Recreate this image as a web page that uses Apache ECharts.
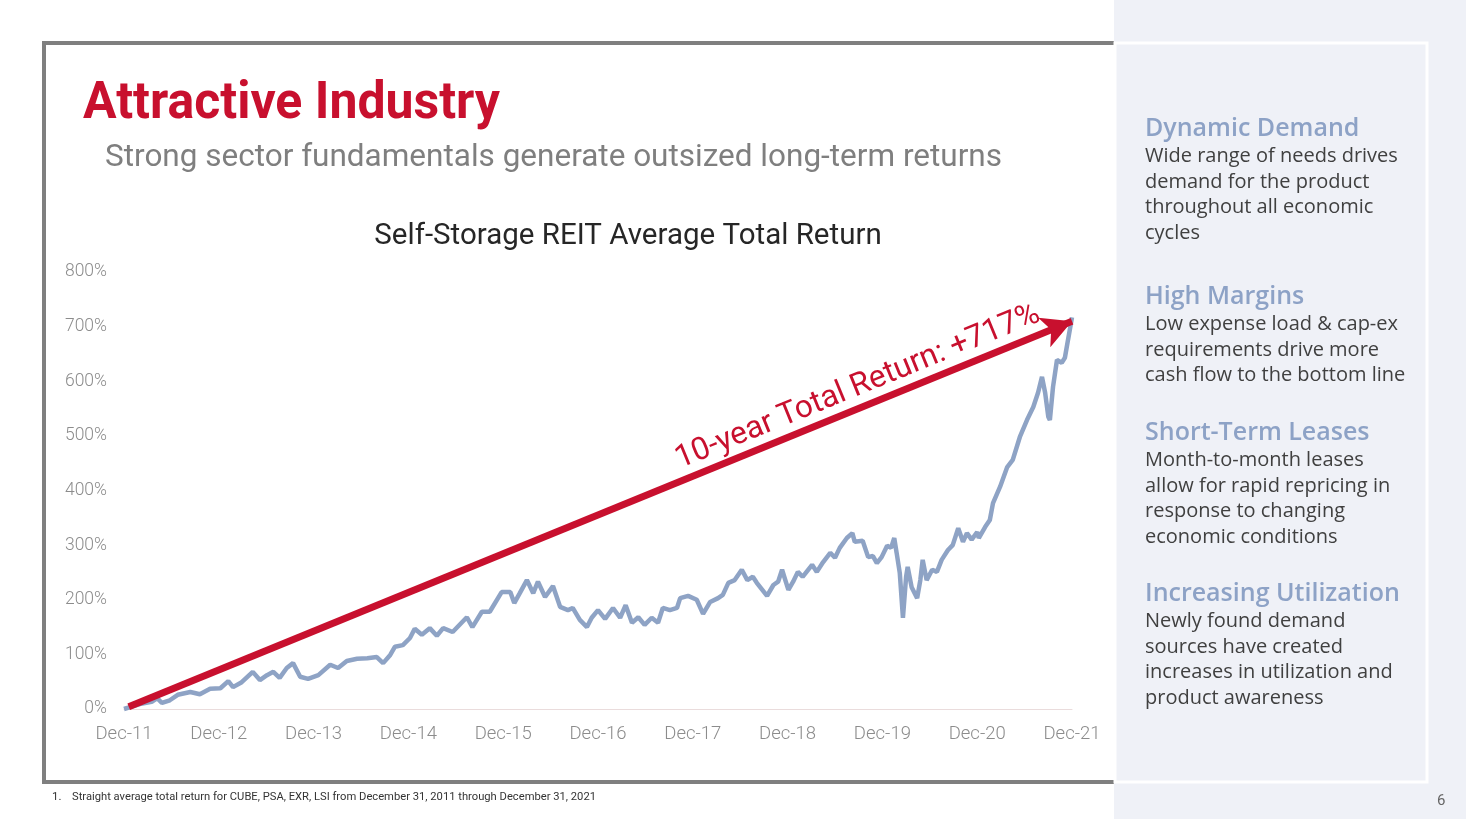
<!DOCTYPE html>
<html>
<head>
<meta charset="utf-8">
<script src="https://cdn.jsdelivr.net/npm/echarts@6/dist/echarts.min.js"></script>
<style>
html,body{margin:0;padding:0;background:#fff;}
#chart{width:1466px;height:819px;}
</style>
</head>
<body>
<div id="chart"></div>
<script>
// ---- data ----
const tickLabels = ['Dec-11','Dec-12','Dec-13','Dec-14','Dec-15','Dec-16','Dec-17','Dec-18','Dec-19','Dec-20','Dec-21'];
// months since Dec-2011
const months = [0,2.0,3.5,4.2,4.8,5.8,6.8,8.4,9.6,10.9,
12.2,13.2,13.8,14.9,16.3,17.2,18.1,18.9,19.7,20.6,
21.4,22.3,23.3,24.6,26.1,27.1,28.2,29.5,30.8,32.0,
32.8,33.7,34.3,35.3,36.2,36.8,37.7,38.7,39.6,40.4,
41.6,43.4,44.1,45.3,46.3,47.8,48.9,49.4,50.1,51.0,
51.8,52.4,53.3,54.3,55.2,56.2,56.8,57.7,58.6,59.2,
60.0,60.9,61.9,62.8,63.5,64.3,65.1,65.9,66.8,67.6,
68.2,69.1,70.0,70.4,71.4,72.5,73.3,74.2,75.2,75.8,
76.5,77.3,78.2,78.9,79.6,80.1,81.4,82.2,82.8,83.3,
84.1,84.7,85.3,85.9,87.1,87.7,88.5,89.4,90.0,90.6,
91.5,92.2,92.5,93.5,94.2,94.8,95.3,95.9,96.6,97.1,
97.5,97.8,98.2,98.6,99.0,99.2,99.7,100.4,100.8,101.1,
101.6,102.3,102.9,103.5,104.3,104.9,105.6,106.2,106.7,107.3,
108.0,108.2,109.0,109.6,110.0,110.9,111.8,112.5,113.4,114.3,
115.1,115.7,116.2,116.6,117.0,117.2,117.6,118.1,118.7,119.1,
119.5,120.0];
// total return, %
const values = [0,9,13,20,11,16,26,31,27,37,
38,51,40,49,68,53,62,68,57,75,
84,59,55,62,81,75,88,92,93,95,
84,99,114,117,130,147,136,148,134,148,
141,168,150,178,178,214,214,194,212,236,
212,233,205,225,187,181,185,163,150,167,
181,165,185,167,190,158,168,154,167,158,
185,181,185,203,207,200,174,196,203,209,
231,236,255,236,242,231,207,227,233,255,
218,233,251,242,264,251,269,286,277,295,
313,322,306,308,278,280,267,278,299,295,
313,286,249,167,242,260,223,203,236,273,
236,255,251,273,291,300,331,306,322,310,
324,313,333,346,377,407,443,456,498,529,
553,579,608,579,535,529,590,639,634,643,
676,717];
const arrowStart = [0.6, 4];
const arrowEnd = [120, 710];
const arrowLabel = '10-year Total Return: +717%';

const sideHeads = ['Dynamic Demand','High Margins','Short-Term Leases','Increasing Utilization'];
const sideBodies = [
  'Wide range of needs drives\ndemand for the product\nthroughout all economic\ncycles',
  'Low expense load & cap-ex\nrequirements drive more\ncash flow to the bottom line',
  'Month-to-month leases\nallow for rapid repricing in\nresponse to changing\neconomic conditions',
  'Newly found demand\nsources have created\nincreases in utilization and\nproduct awareness'
];
const headY = [129, 297, 433, 594];
const bodyTop = [144, 312, 448, 609];

const RED = '#c8102e';

// fit text horizontally to a target width
const mctx = document.createElement('canvas').getContext('2d');
function fitScale(text, font, width){ mctx.font = font; return width / mctx.measureText(text).width; }

const titleFont = 'bold 52px Roboto';
const titleText = 'Attractive Industry';
const footFont = '11.5px Roboto';
const footText = 'Straight average total return for CUBE, PSA, EXR, LSI from December 31, 2011 through December 31, 2021';

const graphics = [
  {type:'rect', shape:{x:44,y:43,width:1072,height:739}, style:{fill:'none',stroke:'#7f7f7f',lineWidth:4}, z:0},
  {type:'rect', shape:{x:1114,y:0,width:352,height:819}, style:{fill:'#eff1f7'}, z:1},
  {type:'rect', shape:{x:1115,y:43,width:312,height:739}, style:{fill:'none',stroke:'#ffffff',lineWidth:3}, z:1},
  {type:'text', x:83, y:105, z:2, scaleX:fitScale(titleText, titleFont, 417), style:{text:titleText, fill:RED, font:titleFont, textVerticalAlign:'middle'}},
  {type:'text', x:105, y:158, z:2, style:{text:'Strong sector fundamentals generate outsized long-term returns', fill:'#7f7f7f', font:'31.5px Roboto', textVerticalAlign:'middle'}},
  {type:'text', x:628, y:237, z:2, style:{text:'Self-Storage REIT Average Total Return', fill:'#262626', font:'29.5px Roboto', textAlign:'center', textVerticalAlign:'middle'}},
  {type:'text', x:52, y:797, z:2, style:{text:'1.', fill:'#333333', font:footFont, textVerticalAlign:'middle'}},
  {type:'text', x:72, y:797, z:2, scaleX:fitScale(footText, footFont, 524), style:{text:footText, fill:'#333333', font:footFont, textVerticalAlign:'middle'}},
  {type:'text', x:1437, y:801, z:2, style:{text:'6', fill:'#666666', font:'15px Roboto', textVerticalAlign:'middle'}}
];
sideHeads.forEach((h,i)=>{
  graphics.push({type:'text', x:1145, y:headY[i], z:2, style:{text:h, fill:'#8da2c6', font:'600 25px "Open Sans"', textVerticalAlign:'middle'}});
  graphics.push({type:'text', x:1145, y:bodyTop[i], z:2, style:{text:sideBodies[i], fill:'#404040', font:'20px "Open Sans"', lineHeight:25.4, textVerticalAlign:'top'}});
});

const chart = echarts.init(document.getElementById('chart'));
chart.setOption({
  animation:false,
  graphic: graphics,
  grid:{left:124, right:394, top:272, bottom:110},
  xAxis:{
    type:'value', min:0, max:120, interval:12,
    axisLine:{show:true, lineStyle:{color:'#eadcdc', width:1}},
    axisTick:{show:false}, splitLine:{show:false},
    axisLabel:{formatter:(v)=>tickLabels[Math.round(v/12)], color:'#8c8c8c', fontSize:18.5, fontWeight:300, fontFamily:'Roboto', margin:16}
  },
  yAxis:{
    type:'value', min:0, max:800, interval:100,
    axisLine:{show:false}, axisTick:{show:false}, splitLine:{show:false},
    axisLabel:{formatter:'{value}%', color:'#8c8c8c', fontSize:17.5, fontWeight:300, fontFamily:'Roboto', margin:17}
  },
  series:[{
    type:'line', clip:false, showSymbol:false, symbol:'none',
    data: months.map((m,i)=>[m, values[i]]),
    lineStyle:{color:'#8ea3c5', width:4.5},
    z:3,
    markLine:{
      silent:true, symbol:['none','arrow'], symbolSize:[24,30],
      lineStyle:{color:RED, width:7, type:'solid'},
      label:{show:true, position:'insideEndTop', formatter:arrowLabel, color:RED, fontSize:31.5, fontFamily:'Roboto', distance:[28,4]},
      data:[[{coord:arrowStart},{coord:arrowEnd}]]
    }
  }]
});
</script>
</body>
</html>
